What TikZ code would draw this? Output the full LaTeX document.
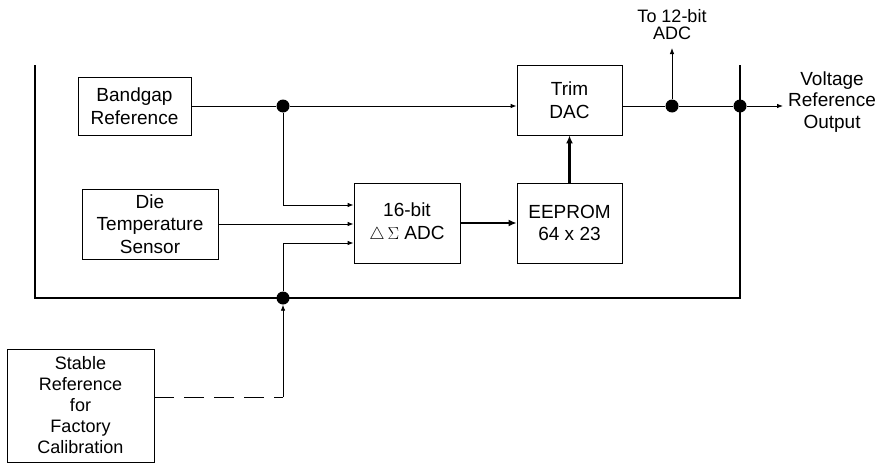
\documentclass[tikz,border=0pt]{standalone}
\usepackage{fontspec}
\setmainfont{Liberation Sans}
\usetikzlibrary{arrows.meta}
\begin{document}
\begin{tikzpicture}[x=1pt,y=-1pt,
  blk/.style={draw,line width=0.8pt,rectangle,align=center,inner sep=0pt,font=\fontsize{19}{22.5}\selectfont},
  lbl/.style={align=center,inner sep=0pt,font=\fontsize{19}{21.5}\selectfont},
  dotnode/.style={circle,fill=black,inner sep=0pt,minimum size=13pt},
  thin/.style={line width=0.8pt,-{Latex[length=6pt,width=4.5pt]}},
  thickarr/.style={line width=2.4pt,-{Latex[length=8pt,width=7pt]}},
  frame/.style={line width=2.6pt}]
\useasboundingbox (0,0) rectangle (893,463);
% blocks
\node[blk,minimum width=113pt,minimum height=58pt] (bg) at (134.5,106) {Bandgap\\Reference};
\node[blk,minimum width=136pt,minimum height=70pt] (die) at (150,224) {Die\\Temperature\\Sensor};
\node[blk,minimum width=106pt,minimum height=80pt] (adc) at (407,223) {16-bit\\{\fontsize{16}{16}\selectfont$\bigtriangleup\,\Sigma$} ADC};
\node[blk,minimum width=105pt,minimum height=80pt] (ee) at (569.5,223) {EEPROM\\64 x 23};
\node[blk,minimum width=105pt,minimum height=70pt] (dac) at (569.5,100) {Trim\\DAC};
\node[blk,minimum width=147pt,minimum height=113pt,font=\fontsize{18}{21}\selectfont] (st) at (80.5,405.5) {Stable\\Reference\\for\\Factory\\Calibration};
% frame
\coordinate (fa) at (35,65);
\coordinate (fb) at (35,298);
\coordinate (fc) at (740,298);
\coordinate (fd) at (740,65);
\draw[frame] (fa) -- (fb) -- (fc) -- (fd);
% dots
\node[dotnode] (d1) at (283,106) {};
\node[dotnode] (d2) at (283,298) {};
\node[dotnode] (d3) at (672,106) {};
\node[dotnode] (d4) at (740,106) {};
% coordinates
\coordinate (in1) at ([yshift=18pt]adc.west);
\coordinate (in3) at ([yshift=-20pt]adc.west);
\coordinate (c1) at (283,397);
\coordinate (top) at (672,48);
\coordinate (out) at (783,106);
% connectors
\draw[line width=0.8pt] (bg.east |- d1) -- (d1);
\draw[thin] (d1) -- (dac.west |- d1);
\draw[thin] (d1) -- (d1 |- in1) -- (in1);
\draw[thin] (die.east) -- (die.east -| adc.west);
\draw[thin] (d2) -- (d2 |- in3) -- (in3);
\draw[line width=0.8pt,dash pattern=on 20pt off 10pt] (st.east |- c1) -- (c1);
\draw[thin] (c1) -- (d2);
\draw[thickarr] (adc.east) -- (ee.west);
\draw[thickarr] (ee.north) -- (dac.south);
\draw[line width=0.8pt] (dac.east |- d3) -- (d3) -- (d4);
\draw[thin] (d4) -- (out);
\draw[thin] (d3) -- (top);
% labels
\node[lbl,anchor=south,font=\fontsize{18}{17.5}\selectfont] (tl) at ([yshift=8pt]top) {To 12-bit\\ADC};
\node[lbl,anchor=west] (vl) at (788,102) {Voltage\\Reference\\Output};
\end{tikzpicture}
\end{document}
